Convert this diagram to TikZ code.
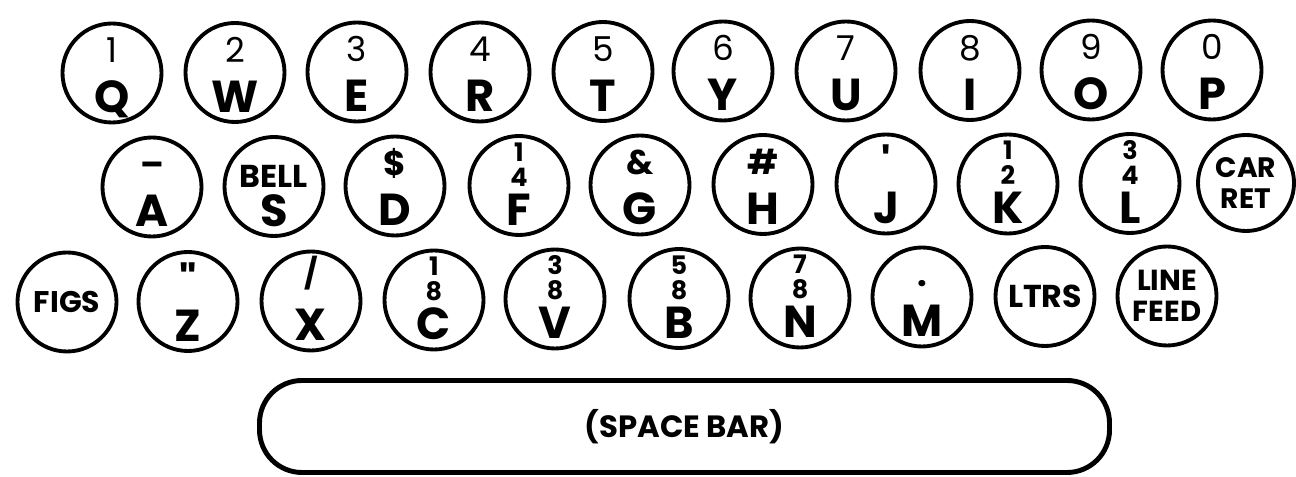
\documentclass[tikz,border=0pt]{standalone}
\usepackage{fontspec}
\setmainfont{Poppins}
\usepackage{tikz}
\usetikzlibrary{calc}

\tikzset{
  keyring/.style={draw, circle, line width=2.2pt, minimum size=1.98cm, inner sep=0pt},
  keytop/.style={anchor=base, inner sep=0pt, font=\fontsize{19.5}{22}\selectfont},
  keychar/.style={anchor=base, inner sep=0pt, font=\fontsize{25.5}{28}\selectfont\bfseries},
  keyword/.style={align=center, font=\fontsize{17}{17}\selectfont\bfseries},
  spacebar/.style={draw, line width=2.8pt, rounded corners=0.85cm, minimum width=17cm,
    minimum height=1.84cm, font=\fontsize{17.5}{20}\selectfont\bfseries}
}

% one round key: name, x, y, upper sign, letter
\newcommand\keycap[5]{%
  \node[keyring] (#1) at (#2,#3) {};
  \node[keytop] (#1-top) at ([yshift=0.2cm]#1.center) {#4};
  \node[keychar] (#1-chr) at ([yshift=-0.8cm]#1.center) {#5};}
\newcommand\frc[2]{\raisebox{-0.22cm}{\fontsize{14.5}{16}\selectfont\bfseries\shortstack{#1\\[0.5pt]#2}}}

\begin{document}
\begin{tikzpicture}
  \useasboundingbox (0,0) rectangle (25.92,-9.54);
  % top row
  \keycap{q}{2.24}{-1.46}{1}{Q}
  \keycap{w}{4.70}{-1.45}{2}{W}
  \keycap{e}{7.14}{-1.44}{3}{E}
  \keycap{r}{9.60}{-1.44}{4}{R}
  \keycap{t}{12.06}{-1.43}{5}{T}
  \keycap{y}{14.46}{-1.42}{6}{Y}
  \keycap{u}{16.92}{-1.42}{7}{U}
  \keycap{i}{19.40}{-1.41}{8}{I}
  \keycap{o}{21.82}{-1.40}{9}{O}
  \keycap{p}{24.24}{-1.40}{0}{P}
  % middle row
  \keycap{a}{3.04}{-3.74}{\textbf{--}}{A}
  \keycap{s}{5.48}{-3.73}{\raisebox{-0.22cm}{\fontsize{18}{18}\selectfont\bfseries BELL}}{S}
  \keycap{d}{7.90}{-3.72}{\textbf{\$}}{D}
  \keycap{f}{10.38}{-3.71}{\frc{1}{4}}{F}
  \keycap{g}{12.80}{-3.70}{\textbf{\&}}{G}
  \keycap{h}{15.26}{-3.69}{\textbf{\#}}{H}
  \keycap{j}{17.72}{-3.68}{\raisebox{-0.1cm}{\fontsize{24}{24}\selectfont\bfseries\textquotesingle}}{J}
  \keycap{k}{20.16}{-3.68}{\frc{1}{2}}{K}
  \keycap{l}{22.60}{-3.67}{\frc{3}{4}}{L}
  \node[keyring, keyword, minimum size=1.92cm, font=\fontsize{16}{17.6}\selectfont\bfseries]
    (cr) at (24.92,-3.66) {CAR\\RET};
  % bottom row
  \node[keyring, keyword] (figs) at (1.34,-6.04) {FIGS};
  \keycap{z}{3.76}{-6.03}{\raisebox{-0.1cm}{\fontsize{24}{24}\selectfont\bfseries\textquotedbl}}{Z}
  \keycap{x}{6.22}{-6.02}{\raisebox{0.12cm}{\fontsize{17}{17}\selectfont\bfseries /}}{X}
  \keycap{c}{8.68}{-6.00}{\frc{1}{8}}{C}
  \keycap{v}{11.10}{-5.98}{\frc{3}{8}}{V}
  \keycap{b}{13.58}{-5.97}{\frc{5}{8}}{B}
  \keycap{n}{16.00}{-5.96}{\frc{7}{8}}{N}
  \keycap{m}{18.44}{-5.94}{\textbf{.}}{M}
  \node[keyring, keyword, font=\fontsize{18}{18}\selectfont\bfseries] (ltrs) at (20.90,-5.93) {LTRS};
  \node[keyring, keyword, font=\fontsize{16.5}{17.5}\selectfont\bfseries] (lf) at (23.34,-5.92) {LINE\\FEED};
  % space bar
  \node[spacebar] (bar) at (13.69,-8.53) {(SPACE BAR)};
\end{tikzpicture}
\end{document}
